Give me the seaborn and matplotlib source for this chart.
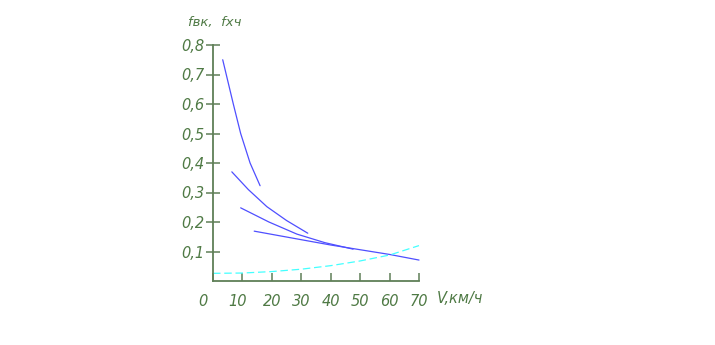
import matplotlib
matplotlib.use("Agg")
import matplotlib.pyplot as plt
import matplotlib.transforms as mtransforms
import seaborn as sns
import pandas as pd

# ---- data ----
c1_v = [3.3, 6.9, 9.4, 12.6, 16.0]
c1_f = [0.75, 0.60, 0.50, 0.40, 0.323]
c2_v = [6.4, 12.0, 18.3, 25.0, 32.2]
c2_f = [0.37, 0.31, 0.252, 0.205, 0.162]
c3_v = [9.4, 19.0, 28.5, 38.0, 47.6]
c3_f = [0.248, 0.200, 0.159, 0.130, 0.108]
c4_v = [14.0, 30.0, 40.0, 50.0, 60.0, 70.0]
c4_f = [0.169, 0.140, 0.122, 0.106, 0.090, 0.071]
cx_v = [0, 10, 20, 30, 40, 50, 60, 70]
cx_f = [0.026, 0.027, 0.032, 0.040, 0.052, 0.068, 0.088, 0.120]

x_ticks = [0, 10, 20, 30, 40, 50, 60, 70]
x_labels = ["0", "10", "20", "30", "40", "50", "60", "70"]
y_ticks = [0.1, 0.2, 0.3, 0.4, 0.5, 0.6, 0.7, 0.8]
y_labels = ["0,1", "0,2", "0,3", "0,4", "0,5", "0,6", "0,7", "0,8"]

sns.set_style("white")
plt.rcParams['font.family'] = ['DejaVu Sans']

AX = "#5f7f57"
TXT = "#4f7a45"
BLUE = "#4f4fff"
CYAN = "#44ffff"

fig = plt.figure(figsize=(7.15, 3.45), dpi=100)
ax = fig.add_axes([213/715, (345-281)/345, (419-213)/715, (281-45)/345])

for v, f in [(c1_v, c1_f), (c2_v, c2_f), (c3_v, c3_f), (c4_v, c4_f)]:
    sns.lineplot(x=v, y=f, ax=ax, color=BLUE, lw=0.9, sort=False, clip_on=False)
sns.lineplot(x=cx_v, y=cx_f, ax=ax, color=CYAN, lw=0.9, clip_on=False,
             linestyle=(0, (6, 3)))

ax.set_xlim(0, 70)
ax.set_ylim(0, 0.8)
for s in ["top", "right"]:
    ax.spines[s].set_visible(False)
for s in ["left", "bottom"]:
    ax.spines[s].set_color(AX)
    ax.spines[s].set_linewidth(1.3)

ax.set_xticks(x_ticks)
ax.set_xticklabels(x_labels)
ax.set_yticks(y_ticks)
ax.set_yticklabels(y_labels)
ax.tick_params(axis="x", bottom=True, direction="in", length=6, width=1.1, color=AX, pad=9,
               labelsize=10.5, labelcolor=TXT)
ax.tick_params(axis="y", left=True, direction="inout", length=10, width=1.1, color=AX, pad=1,
               labelsize=10.5, labelcolor=TXT)
for lab in ax.get_xticklabels() + ax.get_yticklabels():
    lab.set_style("italic")
labs = ax.get_xticklabels()
labs[0].set_transform(labs[0].get_transform() +
                      mtransforms.ScaledTranslation(-10/100, 0, fig.dpi_scale_trans))
labs[1].set_transform(labs[1].get_transform() +
                      mtransforms.ScaledTranslation(-5/100, 0, fig.dpi_scale_trans))

ax.text(76.2, -0.076, "V,км/ч", transform=ax.get_xaxis_transform(), ha="left",
        va="center", fontsize=10.5, style="italic", color=TXT)
ax.text(-8.5, 1.097, "fвк,  fхч", transform=ax.get_xaxis_transform(), ha="left",
        va="center", fontsize=9.5, style="italic", color=TXT)

ax.set_xlabel("")
ax.set_ylabel("")
fig.savefig("out.png", dpi=100)
